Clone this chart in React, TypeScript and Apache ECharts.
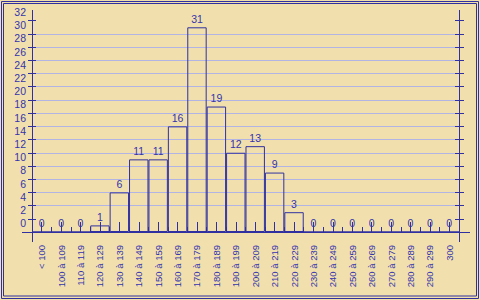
import React, { useEffect, useRef } from "react";
import * as echarts from "echarts";

const categories = [
  "< 100", "100 à 109", "110 à 119", "120 à 129", "130 à 139", "140 à 149",
  "150 à 159", "160 à 169", "170 à 179", "180 à 189", "190 à 199", "200 à 209",
  "210 à 219", "220 à 229", "230 à 239", "240 à 249", "250 à 259", "260 à 269",
  "270 à 279", "280 à 289", "290 à 299", "300",
];
const counts = [0, 0, 0, 1, 6, 11, 11, 16, 31, 19, 12, 13, 9, 3, 0, 0, 0, 0, 0, 0, 0, 0];
const yTickLabels = ["0", "2", "4", "6", "8", "10", "12", "14", "16", "18", "20", "22", "24", "26", "28", "30", "32"];

const BLUE = "#3030a0";
const TEXT = "#3434ae";
const FONT = "'Liberation Sans', Arial, sans-serif";

export default function App() {
  const ref = useRef<HTMLDivElement>(null);
  useEffect(() => {
    if (!ref.current) return;
    const chart = echarts.init(ref.current, undefined, { renderer: "svg" });
    const tickVals = yTickLabels.slice(0, -1).map((_, i) => (i + 1) * 2);
    const labelVals = yTickLabels.map((_, i) => (i + 1) * 2);
    const yBase = {
      type: "value",
      min: 0,
      max: 34,
      interval: 2,
      axisLine: { show: false },
      axisLabel: { show: false },
      splitLine: { show: false },
    };
    const xBase = {
      type: "category",
      data: categories,
      axisLine: { show: false },
      axisLabel: { show: false },
      splitLine: { show: false },
    };
    chart.setOption({
      animation: false,
      backgroundColor: "#f1e0ad",
      grid: { left: 32, right: 21, top: 7.5, bottom: 68 },
      xAxis: [
        {
          ...xBase,
          axisTick: { show: true, inside: true, length: 5, interval: 0, lineStyle: { color: BLUE, width: 1 } },
          axisLabel: {
            show: true,
            interval: 0,
            rotate: 90,
            margin: 13,
            color: TEXT,
            fontSize: 9.5,
            fontFamily: FONT,
          },
        },
        {
          ...xBase,
          axisTick: { show: true, inside: false, length: 5, interval: 0, lineStyle: { color: BLUE, width: 1 } },
        },
        {
          ...xBase,
          axisTick: { show: true, inside: false, length: 10, interval: 0, alignWithLabel: true, lineStyle: { color: BLUE, width: 1 } },
        },
      ],
      yAxis: [
        {
          ...yBase,
          position: "left",
          axisTick: { show: true, inside: false, length: 4, customValues: tickVals, lineStyle: { color: BLUE } },
          axisLabel: {
            show: true,
            customValues: labelVals,
            formatter: (v: number) => {
              const i = Math.round(v / 2) - 1;
              return i >= 0 && i < yTickLabels.length ? yTickLabels[i] : "";
            },
            margin: 6,
            verticalAlign: "top",
            lineHeight: 9,
            color: TEXT,
            fontSize: 10.5,
            fontFamily: FONT,
          },
          splitLine: { show: true, showMinLine: false, showMaxLine: false, lineStyle: { color: "#b2b5e4", width: 1 } },
        },
        {
          ...yBase,
          position: "left",
          axisTick: { show: true, inside: true, length: 4, customValues: tickVals, lineStyle: { color: BLUE } },
        },
        {
          ...yBase,
          position: "right",
          axisTick: { show: true, inside: true, length: 4, customValues: tickVals, lineStyle: { color: BLUE } },
        },
        {
          ...yBase,
          position: "right",
          axisTick: { show: true, inside: false, length: 5, customValues: tickVals, lineStyle: { color: BLUE } },
        },
      ],
      series: [
        {
          type: "bar",
          data: counts,
          xAxisIndex: 0,
          yAxisIndex: 0,
          barCategoryGap: "0%",
          itemStyle: { color: "rgba(0,0,0,0)", borderColor: BLUE, borderWidth: 1 },
          label: {
            show: true,
            position: "top",
            distance: 3,
            color: TEXT,
            fontSize: 10.5,
            fontFamily: FONT,
          },
        },
      ],
      graphic: [
        { type: "rect", shape: { x: 1.5, y: 1.5, width: 477, height: 297 }, style: { fill: "none", stroke: BLUE, lineWidth: 1 }, z: 100 },
        { type: "rect", shape: { x: 3.5, y: 3.5, width: 473, height: 292.5 }, style: { fill: "none", stroke: BLUE, lineWidth: 1 }, z: 100 },
        { type: "line", shape: { x1: 32.5, y1: 10, x2: 32.5, y2: 242 }, style: { stroke: BLUE, lineWidth: 1 }, z: 100 },
        { type: "line", shape: { x1: 459.5, y1: 10, x2: 459.5, y2: 242 }, style: { stroke: BLUE, lineWidth: 1 }, z: 100 },
        { type: "line", shape: { x1: 22, y1: 232.5, x2: 470, y2: 232.5 }, style: { stroke: BLUE, lineWidth: 1 }, z: 100 },
      ],
    });
    return () => chart.dispose();
  }, []);
  return <div ref={ref} style={{ position: "absolute", left: 0, top: 0, width: 480, height: 300 }} />;
}
